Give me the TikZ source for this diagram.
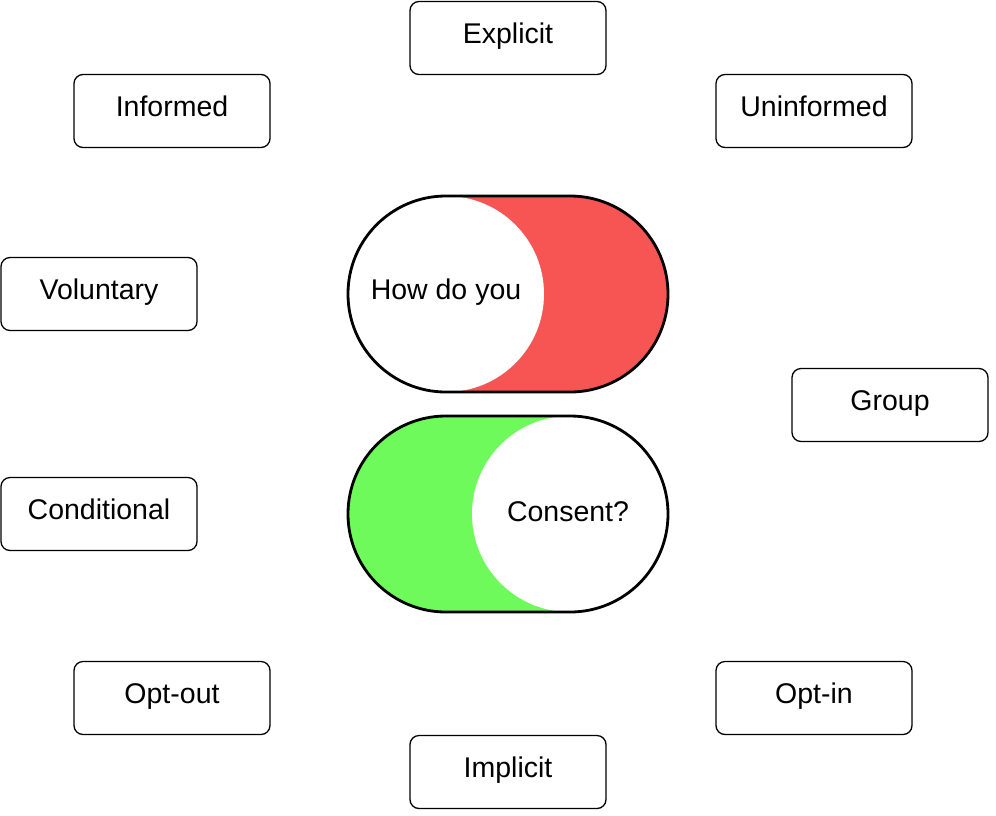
\documentclass[tikz,border=0pt]{standalone}
\usepackage{fontspec}
\setmainfont{Liberation Sans}
\definecolor{tred}{HTML}{F75454}
\definecolor{tgreen}{HTML}{6FFA5C}
\begin{document}
\begin{tikzpicture}[x=1pt,y=-1pt,
  box/.style={draw=black,line width=1.3pt,rounded corners=9pt,minimum width=196pt,minimum height=73pt,fill=white,font=\fontsize{28.5}{32}\selectfont,text height=18pt,text depth=7pt},
  lbl/.style={font=\fontsize{28.5}{32}\selectfont,inner sep=0pt},
  tog/.style={rounded corners=97.9pt}]
\useasboundingbox (0,0) rectangle (996,815);
\node[box] (explicit) at (508,38) {Explicit};
\node[box] (informed) at (172,111) {Informed};
\node[box] (uninformed) at (814,111) {Uninformed};
\node[box] (voluntary) at (99,294) {Voluntary};
\node[box] (group) at (890,405) {Group};
\node[box] (conditional) at (99,514) {Conditional};
\node[box] (optout) at (172,698) {Opt-out};
\node[box] (optin) at (814,698) {Opt-in};
\node[box] (implicit) at (508,772) {Implicit};
% toggle 1
\fill[tred,tog] (348,196) rectangle (668,392);
\fill[white] (446,294) circle[radius=98];
\draw[line width=2.8pt,tog] (348,196) rectangle (668,392);
\node[lbl] (how) at (446,292) {How do you};
% toggle 2
\fill[tgreen,tog] (348,416) rectangle (668,612);
\fill[white] (570,514) circle[radius=98];
\draw[line width=2.8pt,tog] (348,416) rectangle (668,612);
\node[lbl] (consent) at (568,512) {Consent?};
\end{tikzpicture}
\end{document}
